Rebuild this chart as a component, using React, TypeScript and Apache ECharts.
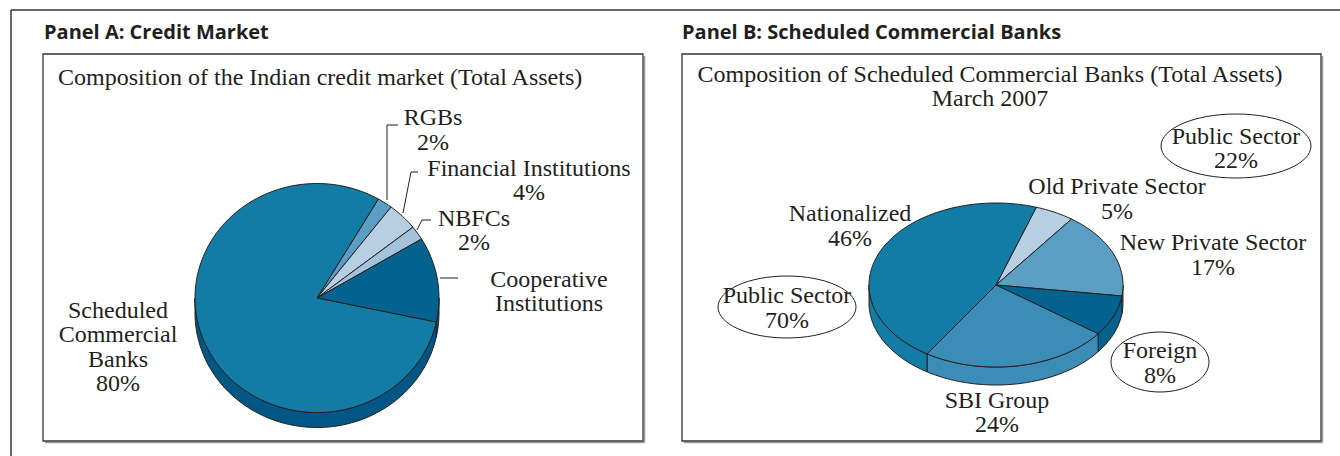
import React, { useEffect, useRef } from "react";
import * as echarts from "echarts";

// ---- Data ----
// Panel A (drawn clockwise from the RGBs slice)
const creditNames = ["RGBs", "Financial Institutions", "NBFCs", "Cooperative\nInstitutions", "Scheduled\nCommercial\nBanks"];
const creditValues = [2, 4, 2, 12, 80];
const creditShowPct = [true, true, true, false, true];

// Panel B (drawn clockwise from the Old Private Sector slice)
const bankNames = ["Old Private Sector", "New Private Sector", "Foreign", "SBI Group", "Nationalized"];
const bankValues = [5, 17, 8, 24, 46];
const groupNames = ["Public Sector", "Public Sector"];
const groupMembers = [[3, 4], [0, 1]]; // public (SBI + Nationalized), private (Old + New)

const panelTitles = ["Panel A: Credit Market", "Panel B: Scheduled Commercial Banks"];
const chartTitles = ["Composition of the Indian credit market (Total Assets)", "Composition of Scheduled Commercial Banks (Total Assets)\nMarch 2007"];

const SERIF = '"Liberation Serif", "Times New Roman", serif';
const INK = "#231f20";

function pieSeries(o: any) {
  const { cx, cy, rx, ry, depth, start, values, colors, sideColors } = o;
  const total = values.reduce((a: number, b: number) => a + b, 0);
  const starts: number[] = [];
  let acc = start;
  for (const v of values) {
    starts.push(acc);
    acc -= (v / total) * 360;
  }
  const pt = (deg: number, dy: number) => {
    const r = (deg * Math.PI) / 180;
    return [cx + rx * Math.cos(r), cy - ry * Math.sin(r) + dy];
  };
  const arc = (from: number, to: number, dy: number) => {
    const n = Math.max(2, Math.ceil(Math.abs(to - from) / 1.5));
    const out: number[][] = [];
    for (let k = 0; k <= n; k++) out.push(pt(from + ((to - from) * k) / n, dy));
    return out;
  };
  return {
    type: "custom",
    coordinateSystem: "none",
    silent: true,
    data: values.map((v: number, i: number) => [v, i]),
    renderItem: (params: any, api: any) => {
      const i = params.dataIndex;
      const v = api.value(0);
      const a0 = starts[i];
      const a1 = a0 - (v / total) * 360;
      const children: any[] = [];
      for (let k = -2; k <= 1; k++) {
        const lo = Math.max(a1, 180 + 360 * k);
        const hi = Math.min(a0, 360 + 360 * k);
        if (hi > lo) {
          const pts = arc(hi, lo, 0).concat(arc(lo, hi, depth));
          children.push({
            type: "polygon",
            shape: { points: pts },
            style: { fill: sideColors[i], stroke: INK, lineWidth: 1, lineJoin: "round" },
          });
        }
      }
      const top = [[cx, cy]].concat(arc(a0, a1, 0));
      children.push({
        type: "polygon",
        shape: { points: top },
        style: { fill: colors[i], stroke: INK, lineWidth: 1, lineJoin: "round" },
      });
      return { type: "group", children };
    },
  };
}

function txt(x: number, y: number, text: string, extra: any = {}) {
  return {
    type: "text",
    x,
    y,
    silent: true,
    style: {
      text,
      fill: INK,
      font: `24px ${SERIF}`,
      textAlign: "center",
      textVerticalAlign: "middle",
      lineHeight: 24.5,
      ...extra,
    },
  };
}

function box(x: number, y: number, w: number, h: number) {
  return [
    { type: "line", shape: { x1: x + w + 1.5, y1: y + 2, x2: x + w + 1.5, y2: y + h + 1.5 }, style: { stroke: "#9a9a9a", lineWidth: 1.5 } },
    { type: "line", shape: { x1: x + 2, y1: y + h + 1.5, x2: x + w + 1.5, y2: y + h + 1.5 }, style: { stroke: "#9a9a9a", lineWidth: 1.5 } },
    { type: "rect", shape: { x, y, width: w, height: h }, style: { fill: "#fff", stroke: "#333", lineWidth: 1.3 } },
  ];
}

export default function App() {
  const ref = useRef<HTMLDivElement>(null);
  useEffect(() => {
    if (!ref.current) return;
    const chart = echarts.init(ref.current, undefined, { renderer: "svg" });
    const pct = (v: number) => `${v}%`;
    const cLabel = (i: number) => (creditShowPct[i] ? `${creditNames[i]}\n${pct(creditValues[i])}` : creditNames[i]);
    const bLabel = (i: number) => `${bankNames[i]}\n${pct(bankValues[i])}`;
    const gLabel = (g: number) => `${groupNames[g]}\n${pct(groupMembers[g].reduce((s, j) => s + bankValues[j], 0))}`;

    const leader = (pts: number[][]) => ({ type: "polyline", silent: true, shape: { points: pts }, style: { stroke: INK, lineWidth: 1, fill: "none" } });
    const ell = (cx: number, cy: number, rx: number, ry: number) => ({ type: "ellipse", silent: true, shape: { cx, cy, rx, ry }, style: { fill: "none", stroke: INK, lineWidth: 1 } });
    const PANEL_FONT = `bold 20px "Open Sans", sans-serif`;

    const graphics: any[] = [
      { type: "line", shape: { x1: 11, y1: 10, x2: 1340, y2: 10 }, style: { stroke: "#333", lineWidth: 1.5 } },
      { type: "line", shape: { x1: 11, y1: 10, x2: 11, y2: 456 }, style: { stroke: "#333", lineWidth: 1.5 } },
      ...box(43, 54, 600, 387),
      ...box(682, 54, 639, 387),
      { type: "text", x: 44, y: 31, style: { text: panelTitles[0], fill: INK, font: PANEL_FONT, textAlign: "left", textVerticalAlign: "middle" } },
      { type: "text", x: 682, y: 31, style: { text: panelTitles[1], fill: INK, font: PANEL_FONT, textAlign: "left", textVerticalAlign: "middle" } },
      txt(58, 77, chartTitles[0], { textAlign: "left" }),
      txt(990, 86, chartTitles[1]),
      // Panel A labels
      leader([[387, 200], [387, 125], [398, 125]]),
      leader([[403, 213], [411, 172], [418, 172]]),
      leader([[417, 230], [422, 220], [431, 220]]),
      leader([[440, 278], [458, 278]]),
      txt(433, 129.5, cLabel(0)),
      txt(529, 180, cLabel(1)),
      txt(474, 230, cLabel(2)),
      txt(549, 291, cLabel(3)),
      txt(118, 346.5, cLabel(4)),
      // Panel B labels
      ell(1236, 146, 75, 32),
      txt(1236, 148, gLabel(1)),
      txt(1117, 198.5, bLabel(0)),
      txt(850, 225.5, bLabel(4)),
      txt(1213, 254.5, bLabel(1)),
      ell(787, 307, 69, 31),
      txt(787, 307.5, gLabel(0)),
      ell(1160, 362, 49, 30),
      txt(1160, 362.5, bLabel(2)),
      txt(997, 412, bLabel(3)),
    ];

    chart.setOption({
      animation: false,
      graphic: { elements: graphics.map((g) => ({ ...g, z: 0, zlevel: 0 })) },
      series: [
        {
          ...pieSeries({
            cx: 317, cy: 298, rx: 122, ry: 114.5, depth: 15, start: 59.8,
            values: creditValues,
            colors: ["#5b9ec3", "#b6cfe3", "#a3c3dc", "#03628e", "#137ca4"],
            sideColors: ["#005785", "#005785", "#005785", "#005785", "#005785"],
          }),
          z: 10,
        },
        {
          ...pieSeries({
            cx: 996, cy: 285, rx: 127, ry: 82, depth: 18, start: 71.5,
            values: bankValues,
            colors: ["#b6cfe3", "#5b9ec3", "#03628e", "#3b8cb6", "#137ca4"],
            sideColors: ["#b6cfe3", "#5b9ec3", "#03628e", "#3b8cb6", "#137ca4"],
          }),
          z: 10,
        },
      ],
    });
    return () => chart.dispose();
  }, []);
  return <div ref={ref} style={{ position: "fixed", left: 0, top: 0, width: 1340, height: 456, background: "#fff" }} />;
}
